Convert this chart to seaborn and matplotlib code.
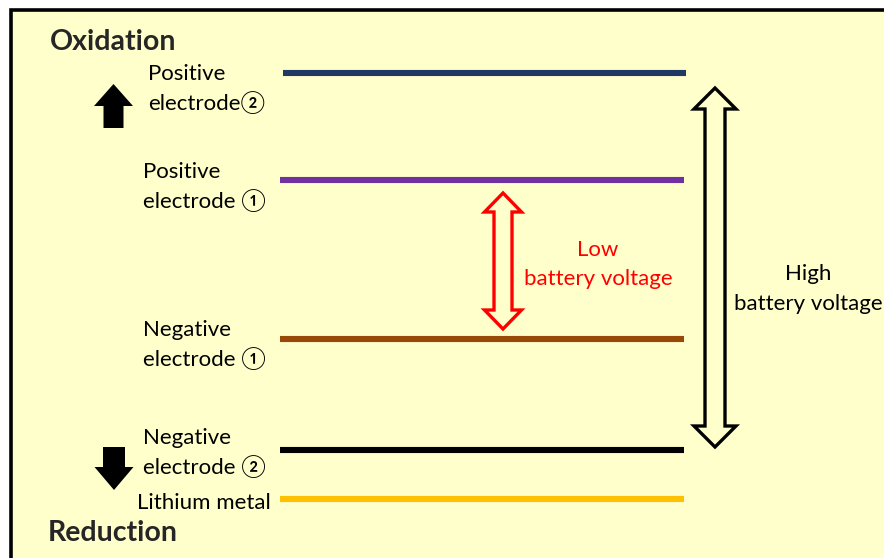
import matplotlib
matplotlib.use("Agg")
import matplotlib.pyplot as plt
import matplotlib.patches as mpatches
import pandas as pd
import seaborn as sns

# energy levels (in picture units, larger = lower)
level_names = ["Positive electrode 2", "Positive electrode 1", "Negative electrode 1",
               "Negative electrode 2", "Lithium metal"]
level_values = [73, 180, 339, 450, 499]
level_colors = ["#203864", "#7030A0", "#984807", "#000000", "#FFC000"]
level_x_start = [283, 280, 280, 280, 280]
level_x_end = [686, 684, 684, 684, 684]

label_lines = [["Positive", "electrode②"], ["Positive", "electrode ①"],
               ["Negative", "electrode ①"], ["Negative", "electrode ②"], ["Lithium metal"]]
label_x = [148, 143, 143, 143, 137]
label_y = [[74, 103], [172, 201], [330, 359], [438, 467], [503]]

sns.set_style("white")
plt.rcParams['font.family'] = ['Lato', 'Noto Sans CJK JP', 'DejaVu Sans']

fig = plt.figure(figsize=(8.84, 5.58), dpi=100)
ax = fig.add_axes([0, 0, 1, 1])

# yellow panel with black frame (right / bottom cut off)
ax.add_patch(mpatches.Rectangle((11, 10), 900, 600, facecolor="#FFFFCC",
                                edgecolor="black", lw=2.6, zorder=0))

rows = []
for n, v, a, b in zip(level_names, level_values, level_x_start, level_x_end):
    rows.append({"name": n, "x": a, "level": v})
    rows.append({"name": n, "x": b, "level": v})
df = pd.DataFrame(rows)
sns.lineplot(data=df, x="x", y="level", hue="name", palette=dict(zip(level_names, level_colors)),
             linewidth=4.4, legend=False, ax=ax, solid_capstyle="butt", zorder=3)
ax.set_xlim(0, 884)
ax.set_ylim(558, 0)
ax.axis("off")

fs = 16
for lines, x, ys in zip(label_lines, label_x, label_y):
    for t, y in zip(lines, ys):
        ax.text(x, y, t, fontsize=fs, ha="left", va="center", color="black")

ax.text(50, 42, "Oxidation", fontsize=20.5, fontweight="bold", ha="left", va="center")
ax.text(48, 533, "Reduction", fontsize=20.5, fontweight="bold", ha="left", va="center")


def double_arrow(cx, top, bottom, hl, hw, sw):
    return [(cx, top), (cx + hw, top + hl), (cx + sw, top + hl), (cx + sw, bottom - hl),
            (cx + hw, bottom - hl), (cx, bottom), (cx - hw, bottom - hl), (cx - sw, bottom - hl),
            (cx - sw, top + hl), (cx - hw, top + hl)]


def single_arrow(cx, tip, tail, hl, hw, sw):
    d = 1 if tail > tip else -1
    return [(cx, tip), (cx + hw, tip + d * hl), (cx + sw, tip + d * hl), (cx + sw, tail),
            (cx - sw, tail), (cx - sw, tip + d * hl), (cx - hw, tip + d * hl)]


ax.add_patch(mpatches.Polygon(double_arrow(503, 193, 329, 19, 18.5, 9), closed=True,
                              facecolor="#FFFFCC", edgecolor="#FF0000", lw=2.4, joinstyle="miter", zorder=4))
ax.add_patch(mpatches.Polygon(double_arrow(715, 88, 447, 21, 21, 10), closed=True,
                              facecolor="#FFFFCC", edgecolor="black", lw=2.4, joinstyle="miter", zorder=4))

ax.add_patch(mpatches.Polygon(single_arrow(113.5, 84, 128, 22, 19.5, 10), closed=True,
                              facecolor="black", edgecolor="none", zorder=4))
ax.add_patch(mpatches.Polygon(single_arrow(114, 490, 447, 23, 19.5, 11), closed=True,
                              facecolor="black", edgecolor="none", zorder=4))

ax.text(598, 250, "Low", fontsize=fs, color="#FF0000", ha="center", va="center")
ax.text(598, 279, "battery voltage", fontsize=fs, color="#FF0000", ha="center", va="center")
ax.text(808, 274, "High", fontsize=fs, color="black", ha="center", va="center")
ax.text(808, 304, "battery voltage", fontsize=fs, color="black", ha="center", va="center")

fig.savefig("out.png", dpi=100, facecolor="white")
